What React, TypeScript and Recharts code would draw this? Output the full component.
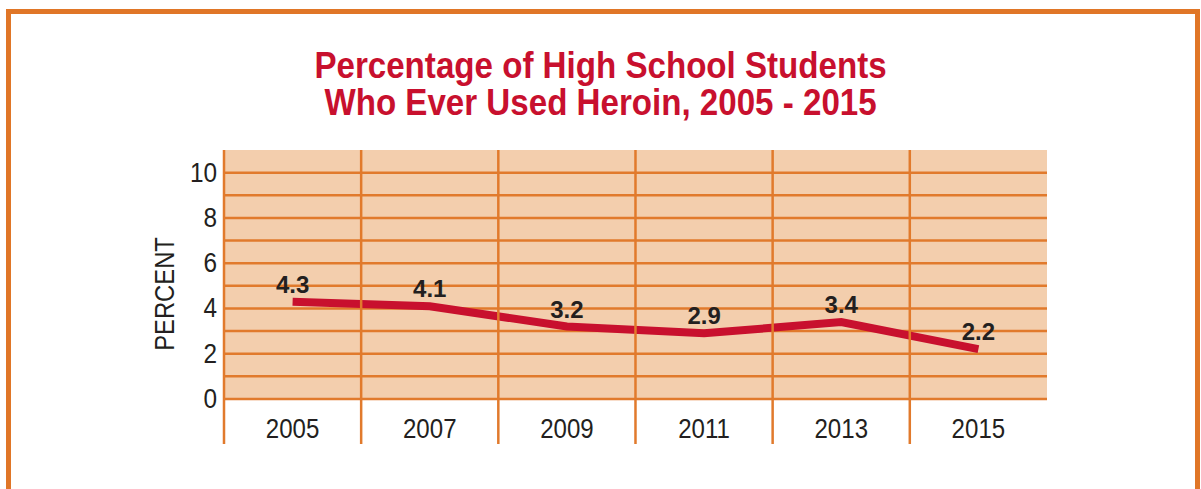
import { LineChart, Line, XAxis, YAxis, CartesianGrid, LabelList, ReferenceLine } from "recharts";

const years = ["2005", "2007", "2009", "2011", "2013", "2015"];
const percents = [4.3, 4.1, 3.2, 2.9, 3.4, 2.2];
const yTicks = [0, 1, 2, 3, 4, 5, 6, 7, 8, 9, 10];

const data = years.map((year, i) => ({ year, value: percents[i] }));

const ORANGE = "#E17A2C";
const CRIMSON = "#C8102E";
const INK = "#231F20";
const SANS = "'Liberation Sans', Arial, sans-serif";
const HALF_COL = 68.6;
const PLOT_H = 249;

const YTick = ({ x, y, payload }: any) => {
  if (payload.value % 2 !== 0) return null;
  return (
    <text transform={`translate(${x},${y}) scale(0.87,1)`} textAnchor="end" dy={9}
      fill={INK} fontSize={28} fontFamily={SANS}>
      {payload.value}
    </text>
  );
};

// year label plus the divider on the left side of its column
const XTick = ({ x, y, payload }: any) => (
  <g>
    <line x1={x - HALF_COL} x2={x - HALF_COL} y1={y - PLOT_H} y2={y + 45} stroke={ORANGE} strokeWidth={2.5} />
    <text transform={`translate(${x},${y}) scale(0.86,1)`} textAnchor="middle" dy={39}
      fill={INK} fontSize={28} fontFamily={SANS}>
      {payload.value}
    </text>
  </g>
);

export default function App() {
  return (
    <div style={{ position: "fixed", left: 0, top: 0, width: 1201, height: 489, overflow: "hidden", background: "#fff" }}>
      <div style={{ position: "absolute", left: 6, top: 9, width: 1194, height: 520, boxSizing: "border-box",
        border: `5px solid #E07627` }} />
      <div style={{ position: "absolute", left: 0, width: 1201, top: 47, textAlign: "center", color: CRIMSON,
        fontFamily: SANS, fontWeight: "bold", fontSize: 36, lineHeight: "37px",
        transform: "scale(0.92,1)", transformOrigin: "601px 0" }}>
        Percentage of High School Students<br />Who Ever Used Heroin, 2005 - 2015
      </div>
      <div style={{ position: "absolute", left: 165, top: 294, transform: "translate(-50%, -50%) rotate(-90deg) scale(0.85,1)",
        fontFamily: SANS, fontSize: 28, lineHeight: "28px", color: INK, whiteSpace: "nowrap" }}>
        PERCENT
      </div>
      <div style={{ position: "absolute", left: 0, top: 0 }}>
        <LineChart width={1201} height={489} data={data} margin={{ top: 150, right: 154, bottom: 89, left: 106 }}>
          <CartesianGrid fill="#F3CEAD" fillOpacity={1} horizontal={false} vertical={false} />
          <XAxis dataKey="year" height={1} padding={{ left: HALF_COL, right: HALF_COL }}
            axisLine={false} tickLine={false} tickSize={0} tickMargin={0} interval={0} tick={<XTick />} />
          <YAxis domain={[0, 11]} ticks={yTicks} width={118} axisLine={false} tickLine={false}
            tickSize={0} tickMargin={7} interval={0} tick={<YTick />} />
          {yTicks.map((t) => (
            <ReferenceLine key={t} y={t} stroke={ORANGE} strokeWidth={2.5} />
          ))}
          <Line dataKey="value" type="linear" stroke={CRIMSON} strokeWidth={8}
            dot={false} activeDot={false} isAnimationActive={false}>
            <LabelList dataKey="value" position="top" offset={9} fill={INK} fontSize={24}
              fontWeight="bold" fontFamily={SANS} />
          </Line>
        </LineChart>
      </div>
    </div>
  );
}
